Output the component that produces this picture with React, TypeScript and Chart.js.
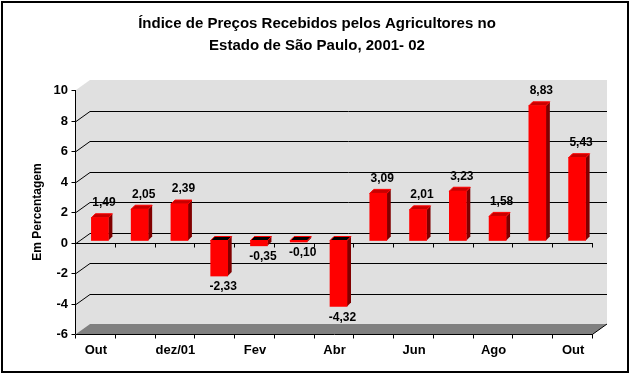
import React, { useEffect, useRef } from "react";
import { Chart, registerables } from "chart.js";

Chart.register(...registerables);

const titleLines = [
  "Índice de Preços Recebidos pelos Agricultores no",
  "Estado de São Paulo, 2001- 02",
];
const yAxisTitle = "Em Percentagem";
const categories = ["Out", "Nov", "dez/01", "Jan", "Fev", "Mar", "Abr", "Mai", "Jun", "Jul", "Ago", "Set", "Out"];
const categoryTickLabels = ["Out", "", "dez/01", "", "Fev", "", "Abr", "", "Jun", "", "Ago", "", "Out"];
const values = [1.49, 2.05, 2.39, -2.33, -0.35, -0.1, -4.32, 3.09, 2.01, 3.23, 1.58, 8.83, 5.43];
const yTicks = [10, 8, 6, 4, 2, 0, -2, -4, -6];

const FONT = '"Liberation Sans", Arial, sans-serif';
const WALL_DX = 14;
const WALL_DY = -10;
const BAR_DX = 4;
const BAR_DY = -2;
const DEPTH = 4;

const fmt = (v: number) => v.toFixed(2).replace(".", ",");

const threeD = {
  id: "threeD",
  beforeDraw(chart: any) {
    const ctx = chart.ctx as CanvasRenderingContext2D;
    const { left, right, top, bottom } = chart.chartArea;
    const ys = chart.scales.y;
    const xs = chart.scales.x;
    ctx.save();
    ctx.fillStyle = "#ffffff";
    ctx.fillRect(0, 0, chart.width, chart.height);
    // frame
    ctx.strokeStyle = "#000";
    ctx.lineWidth = 2;
    ctx.strokeRect(2, 2, 626, 370);
    // title
    ctx.fillStyle = "#000";
    ctx.font = `bold 15px ${FONT}`;
    ctx.textAlign = "center";
    ctx.textBaseline = "middle";
    ctx.fillText(titleLines[0], 317, 24);
    ctx.fillText(titleLines[1], 317, 46);
    // side wall
    ctx.fillStyle = "#e0e0e0";
    ctx.beginPath();
    ctx.moveTo(left, top);
    ctx.lineTo(left + WALL_DX, top + WALL_DY);
    ctx.lineTo(left + WALL_DX, bottom + WALL_DY);
    ctx.lineTo(left, bottom);
    ctx.closePath();
    ctx.fill();
    // back wall
    ctx.fillRect(left + WALL_DX, top + WALL_DY, right - left, bottom - top);
    // floor
    ctx.fillStyle = "#808080";
    ctx.beginPath();
    ctx.moveTo(left, bottom);
    ctx.lineTo(left + WALL_DX, bottom + WALL_DY);
    ctx.lineTo(right + WALL_DX, bottom + WALL_DY);
    ctx.lineTo(right, bottom);
    ctx.closePath();
    ctx.fill();
    // gridlines
    ctx.strokeStyle = "#000";
    ctx.lineWidth = 1;
    yTicks.forEach((v) => {
      if (v === yTicks[0] || v === yTicks[yTicks.length - 1]) return;
      const py = Math.round(ys.getPixelForValue(v)) + 0.5;
      ctx.beginPath();
      ctx.moveTo(left, py);
      ctx.lineTo(left + WALL_DX, py + WALL_DY);
      ctx.lineTo(right + WALL_DX, py + WALL_DY);
      ctx.stroke();
    });
    // y axis
    const ax = Math.round(left) - 0.5;
    ctx.beginPath();
    ctx.moveTo(ax, top);
    ctx.lineTo(ax, bottom);
    ctx.stroke();
    ctx.font = `bold 13px ${FONT}`;
    ctx.textAlign = "right";
    ctx.fillStyle = "#000";
    yTicks.forEach((v) => {
      const py = Math.round(ys.getPixelForValue(v)) + 0.5;
      ctx.beginPath();
      ctx.moveTo(ax - 4, py);
      ctx.lineTo(ax, py);
      ctx.stroke();
      ctx.fillText(String(v), left - 8, py);
    });
    // y title
    ctx.save();
    ctx.font = `bold 12px ${FONT}`;
    ctx.translate(38, (top + bottom) / 2);
    ctx.rotate(-Math.PI / 2);
    ctx.textAlign = "center";
    ctx.fillText(yAxisTitle, 0, 0);
    ctx.restore();
    // category axes (zero line & floor front edge)
    const step = (right - left) / categories.length;
    [0, -6].forEach((v) => {
      const py = Math.round(ys.getPixelForValue(v)) + 0.5;
      ctx.beginPath();
      ctx.moveTo(left, py);
      ctx.lineTo(right, py);
      for (let i = 0; i <= categories.length; i++) {
        const px = Math.round(left + i * step) - 0.5;
        ctx.moveTo(px, py);
        ctx.lineTo(px, py + 4);
      }
      ctx.stroke();
    });
    ctx.beginPath();
    ctx.moveTo(right, bottom);
    ctx.lineTo(right + WALL_DX, bottom + WALL_DY);
    ctx.stroke();
    // category labels
    ctx.textAlign = "center";
    categoryTickLabels.forEach((lab, i) => {
      if (!lab) return;
      ctx.fillText(lab, xs.getPixelForValue(i), bottom + 16);
    });
    ctx.restore();
  },
  beforeDatasetsDraw(chart: any) {
    const ctx = chart.ctx as CanvasRenderingContext2D;
    const meta = chart.getDatasetMeta(0);
    ctx.save();
    meta.data.forEach((el: any, i: number) => {
      const p = el.getProps(["x", "y", "base", "width"], true);
      const l = p.x - p.width / 2 + BAR_DX;
      const r = p.x + p.width / 2 + BAR_DX;
      const t = Math.min(p.y, p.base) + BAR_DY;
      const b = Math.max(p.y, p.base) + BAR_DY;
      ctx.fillStyle = "#800000";
      ctx.beginPath();
      ctx.moveTo(r, t);
      ctx.lineTo(r + DEPTH, t - DEPTH);
      ctx.lineTo(r + DEPTH, b - DEPTH);
      ctx.lineTo(r, b);
      ctx.closePath();
      ctx.fill();
      ctx.fillStyle = values[i] >= 0 ? "#c80000" : "#000000";
      ctx.beginPath();
      ctx.moveTo(l, t);
      ctx.lineTo(l + DEPTH, t - DEPTH);
      ctx.lineTo(r + DEPTH, t - DEPTH);
      ctx.lineTo(r, t);
      ctx.closePath();
      ctx.fill();
      ctx.strokeStyle = "#ff0000";
      ctx.lineWidth = 1;
      ctx.stroke();
    });
    ctx.restore();
    ctx.save();
    ctx.translate(BAR_DX, BAR_DY);
  },
  afterDatasetsDraw(chart: any) {
    const ctx = chart.ctx as CanvasRenderingContext2D;
    ctx.restore();
    const meta = chart.getDatasetMeta(0);
    ctx.save();
    ctx.font = `bold 12px ${FONT}`;
    ctx.fillStyle = "#000";
    ctx.textAlign = "center";
    ctx.textBaseline = "middle";
    meta.data.forEach((el: any, i: number) => {
      const p = el.getProps(["x", "y", "base"], true);
      const t = Math.min(p.y, p.base) + BAR_DY;
      const b = Math.max(p.y, p.base) + BAR_DY;
      const cx = p.x + BAR_DX + 4;
      const cy = values[i] >= 0 ? t - 15 : b + 11;
      ctx.fillText(fmt(values[i]), cx, cy);
    });
    ctx.restore();
  },
};

export default function App() {
  const ref = useRef<HTMLCanvasElement | null>(null);
  useEffect(() => {
    if (!ref.current) return;
    const chart = new Chart(ref.current, {
      type: "bar",
      data: {
        labels: categories,
        datasets: [
          {
            data: values,
            backgroundColor: "#ff0000",
            borderWidth: 0,
            barThickness: 17,
          },
        ],
      },
      options: {
        responsive: false,
        animation: false,
        devicePixelRatio: 1,
        layout: { padding: { left: 76, right: 42, top: 90, bottom: 44 } },
        scales: {
          x: { display: false, offset: true, grid: { offset: true } },
          y: { display: false, min: -6, max: 10 },
        },
        plugins: {
          legend: { display: false },
          tooltip: { enabled: false },
          title: { display: false },
        },
      },
      plugins: [threeD],
    } as any);
    return () => chart.destroy();
  }, []);
  return (
    <div style={{ position: "fixed", left: 0, top: 0, width: 635, height: 378, background: "#fff" }}>
      <canvas ref={ref} width={635} height={378} style={{ width: 635, height: 378, display: "block" }} />
    </div>
  );
}
